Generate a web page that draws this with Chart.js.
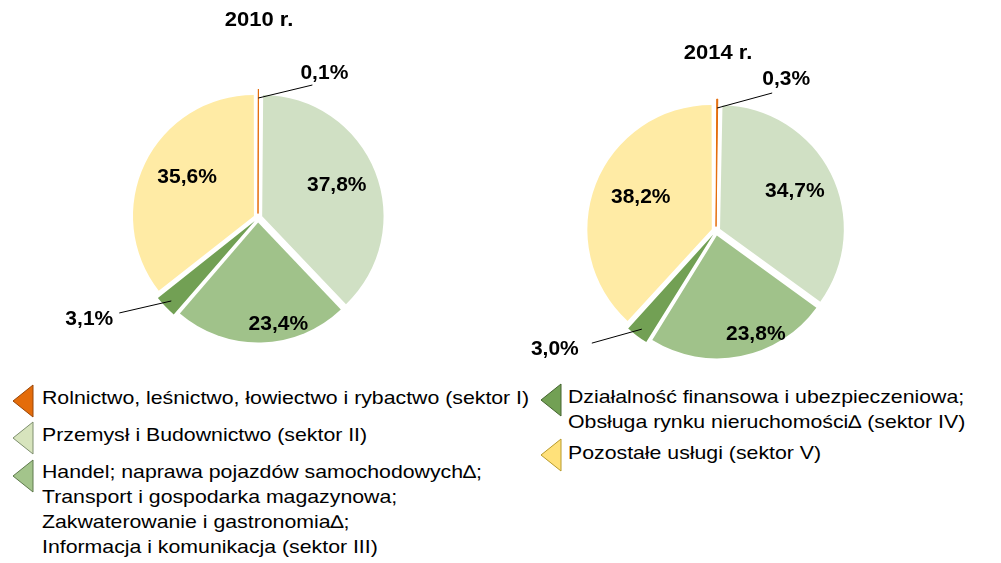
<!DOCTYPE html>
<html>
<head>
<meta charset="utf-8">
<script src="https://cdn.jsdelivr.net/npm/chart.js@4.4.1/dist/chart.umd.min.js"></script>
<style>
  html, body { margin: 0; padding: 0; background: #fff; }
  #wrap { position: relative; width: 1001px; height: 563px; overflow: hidden; font-family: "Liberation Sans", Arial, sans-serif; }
  .cv { position: absolute; }
  .title { position: absolute; font-weight: bold; font-size: 20px; line-height: 24px; color: #000; transform: translate(-50%, -50%) scaleX(1.1); white-space: nowrap; }
  .leg { position: absolute; font-size: 18.5px; line-height: 25px; color: #000; white-space: nowrap; transform: scaleX(1.15); transform-origin: 0 0; }
</style>
</head>
<body>
<div id="wrap">
  <canvas id="c1" class="cv" style="left:0;top:0;width:500px;height:380px" width="500" height="380"></canvas>
  <canvas id="c2" class="cv" style="left:500px;top:0;width:501px;height:380px" width="501" height="380"></canvas>
  <div id="t1" class="title" style="left:259px;top:19px"></div>
  <div id="t2" class="title" style="left:718px;top:52px"></div>
  <div id="legend"></div>
</div>
<script>
// ---- data ----
const categories = [
  ["Rolnictwo, leśnictwo, łowiectwo i rybactwo (sektor I)"],
  ["Przemysł i Budownictwo (sektor II)"],
  ["Handel; naprawa pojazdów samochodowych\u2206;", "Transport i gospodarka magazynowa;", "Zakwaterowanie i gastronomia\u2206;", "Informacja i komunikacja (sektor III)"],
  ["Działalność finansowa i ubezpieczeniowa;", "Obsługa rynku nieruchomości\u2206 (sektor IV)"],
  ["Pozostałe usługi (sektor V)"]
];
const values2010 = [0.1, 37.8, 23.4, 3.1, 35.6];
const values2014 = [0.3, 34.7, 23.8, 3.0, 38.2];
const titles = ["2010 r.", "2014 r."];

// ---- styles ----
const sliceColors = ["#E46C0A", "#D0E0C4", "#A0C28A", "#72A054", "#FFEBA5"];
const legendColors = ["#E46C0A", "#D7E4BD", "#A3C48B", "#72A054", "#FFE17A"];
const legendStroke = ["#9A4606", "#7E8F6E", "#5E7A4C", "#44652F", "#B89A2A"];

// label placement styles per chart: inside -> [radiusFraction, angleShiftDeg]; outside -> leader
const labelStyle1 = {
  inside: {1: [0.71, -0.8], 2: [0.90, -9.4], 4: [0.68, 3.7]},
  outside: {0: {line: [54, -13], text: [12, -12]}, 3: {line: [-52, 12], text: [-30, 6]}}
};
const labelStyle2 = {
  inside: {1: [0.72, -0.6], 2: [0.90, -9.9], 4: [0.67, 2.8]},
  outside: {0: {line: [55, -15], text: [14, -14]}, 3: {line: [-50, 14], text: [-37, 6]}}
};

function fmt(v) { return v.toFixed(1).replace('.', ',') + '%'; }

const labelPlugin = {
  id: 'pieLabels',
  afterDatasetsDraw(chart, args, opts) {
    const ctx = chart.ctx;
    const meta = chart.getDatasetMeta(0);
    const data = chart.data.datasets[0].data;
    const st = opts.style;
    ctx.save();
    ctx.font = 'bold 21px "Liberation Sans", Arial, sans-serif';
    ctx.fillStyle = '#000';
    ctx.textAlign = 'center';
    ctx.textBaseline = 'middle';
    meta.data.forEach((arc, i) => {
      const p = arc.getProps(['x', 'y', 'startAngle', 'endAngle', 'outerRadius'], true);
      const mid = (p.startAngle + p.endAngle) / 2;
      const txt = fmt(data[i]);
      if (st.inside[i]) {
        const [f, sh] = st.inside[i];
        const a = mid + sh * Math.PI / 180;
        ctx.fillText(txt, p.x + Math.cos(a) * p.outerRadius * f, p.y + Math.sin(a) * p.outerRadius * f);
      } else if (st.outside[i]) {
        const o = st.outside[i];
        const ex = p.x + Math.cos(mid) * p.outerRadius;
        const ey = p.y + Math.sin(mid) * p.outerRadius;
        const lx = ex + o.line[0], ly = ey + o.line[1];
        ctx.beginPath();
        ctx.strokeStyle = '#000';
        ctx.lineWidth = 1;
        ctx.moveTo(ex, ey);
        ctx.lineTo(lx, ly);
        ctx.stroke();
        ctx.fillText(txt, lx + o.text[0], ly + o.text[1]);
      }
    });
    ctx.restore();
  }
};

function makePie(id, values, padding, style) {
  return new Chart(document.getElementById(id), {
    type: 'pie',
    data: {
      labels: categories.map(c => c.join(' ')),
      datasets: [{
        data: values,
        backgroundColor: sliceColors,
        borderColor: sliceColors.map((c, i) => i === 0 ? c : '#ffffff'),
        borderWidth: values.map((v, i) => i === 0 ? 1 : 0),
        offset: 18
      }]
    },
    options: {
      responsive: false,
      animation: false,
      layout: { padding: padding },
      plugins: {
        legend: { display: false },
        tooltip: { enabled: false },
        title: { display: false },
        pieLabels: { style: style }
      }
    },
    plugins: [labelPlugin]
  });
}

makePie('c1', values2010, {left: 128.5, right: 112.5, top: 88.5, bottom: 32.5}, labelStyle1);
makePie('c2', values2014, {left: 83.5, right: 152.5, top: 98.5, bottom: 16.5}, labelStyle2);

document.getElementById('t1').textContent = titles[0];
document.getElementById('t2').textContent = titles[1];

// ---- legend (HTML) ----
const legendPos = [
  {x: 42, y: 385, tx: 12, ty: 384},
  {x: 42, y: 422, tx: 12, ty: 421},
  {x: 42, y: 459, tx: 12, ty: 459},
  {x: 568, y: 384, tx: 540, ty: 383},
  {x: 568, y: 440, tx: 540, ty: 438}
];
const legend = document.getElementById('legend');
categories.forEach((lines, i) => {
  const pos = legendPos[i];
  const d = document.createElement('div');
  d.className = 'leg';
  d.style.left = pos.x + 'px';
  d.style.top = pos.y + 'px';
  d.innerHTML = lines.map(l => l.replace(/&/g, '&amp;').replace(/</g, '&lt;')).join('<br>');
  legend.appendChild(d);
  const svg = document.createElementNS('http://www.w3.org/2000/svg', 'svg');
  svg.setAttribute('width', '24');
  svg.setAttribute('height', '36');
  svg.style.position = 'absolute';
  svg.style.left = pos.tx + 'px';
  svg.style.top = pos.ty + 'px';
  const poly = document.createElementNS('http://www.w3.org/2000/svg', 'polygon');
  poly.setAttribute('points', '1,17 21,1 21,33');
  poly.setAttribute('fill', legendColors[i]);
  poly.setAttribute('stroke', legendStroke[i]);
  poly.setAttribute('stroke-width', '1');
  svg.appendChild(poly);
  legend.appendChild(svg);
});
</script>
</body>
</html>
